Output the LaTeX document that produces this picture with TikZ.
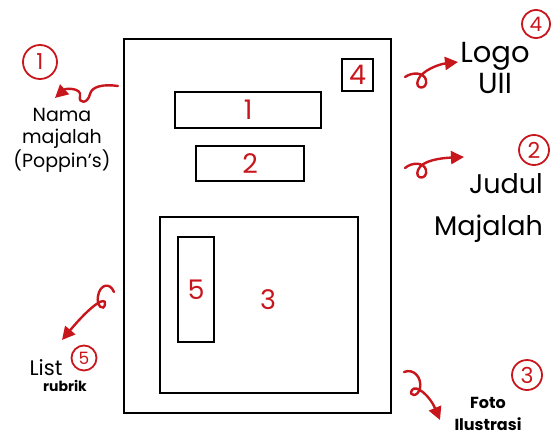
\documentclass[tikz,border=0pt]{standalone}
\usepackage{fontspec}
\setmainfont{Poppins}
\usepackage{xcolor}
\definecolor{marker}{HTML}{C8161D}
\usepackage{tikz}
\usetikzlibrary{arrows.meta, positioning}

\begin{document}
\begin{tikzpicture}[x=1pt, y=-1pt,
  box/.style={draw=black, line width=2.2pt, inner sep=0pt, anchor=north west},
  num/.style={text=marker, font=\fontsize{27}{27}\selectfont},
  badge/.style={draw=marker, circle, line width=1.8pt, text=marker,
                inner sep=0pt, font=\fontsize{22}{22}\selectfont},
  note/.style={font=\fontsize{18}{22}\selectfont, inner sep=0pt},
  curl/.style={draw=marker, line width=2.4pt, line cap=round,
               -{Triangle[length=13pt,width=13pt]}}]
  \useasboundingbox (0,0) rectangle (551,442);

  % layout sketch
  \node[box, minimum width=267pt, minimum height=374pt] (page) at (123,38) {};
  \node[box, minimum width=31pt, minimum height=32pt, num] (logo) at (341,58) {4};
  \node[box, minimum width=146pt, minimum height=36pt, num] (title) at (174,91) {1};
  \node[box, minimum width=108pt, minimum height=35pt, num] (subtitle) at (195,145) {2};
  \node[box, minimum width=198pt, minimum height=176pt] (photo) at (159,216) {};
  \node[num] (photonum) at (268,300) {3};
  \node[box, minimum width=36pt, minimum height=105pt, num] (list) at (177,236) {5};

  % notes on the left
  \node[badge, minimum size=34pt] (b1) at (40,62) {1};
  \node[note, align=center, font=\fontsize{19}{22}\selectfont] (namenote) at (62,140) {Nama\\majalah\\(Poppin's)};
  \node[badge, minimum size=25pt, font=\fontsize{17}{17}\selectfont] (b5) at (84,358) {5};
  \node[note, font=\fontsize{21}{21}\selectfont] (listnote) at (46,368) {List};
  \node[note, font=\fontsize{14}{14}\selectfont\bfseries] (rubriknote) at (65,386) {rubrik};

  % notes on the right
  \node[badge, minimum size=28pt, font=\fontsize{20}{20}\selectfont] (b4) at (536,24) {4};
  \node[note, align=center, font=\fontsize{29}{31}\selectfont] (logonote) at (495,68) {Logo\\UII};
  \node[badge, minimum size=30pt] (b2) at (534,150) {2};
  \node[note, align=right, font=\fontsize{27}{42}\selectfont, anchor=east] (titlenote) at (543,208) {Judul\\Majalah};
  \node[badge, minimum size=30pt] (b3) at (527,375) {3};
  \node[note, align=center, font=\fontsize{16}{22}\selectfont\bfseries] (photonote) at (488,414) {Foto\\Ilustrasi};

  % curly arrows
  \coordinate (s1) at (118,86);  \coordinate (e1) at (55,98);
  \coordinate (s4) at (405,77);  \coordinate (e4) at (458,62);
  \coordinate (s2) at (405,168); \coordinate (e2) at (464,157);
  \coordinate (s5) at (114,292); \coordinate (e5) at (62,340);
  \coordinate (s3) at (404,372); \coordinate (e3) at (440,420);

  \draw[curl] (s1) .. controls (104,84) and (92,86) .. (90,94)
                   .. controls (88,104) and (78,104) .. (80,96)
                   .. controls (82,88) and (66,88) .. (e1);
  \draw[curl] (s4) .. controls (412,72) and (424,72) .. (426,80)
                   .. controls (428,90) and (414,90) .. (418,80)
                   .. controls (422,70) and (440,64) .. (e4);
  \draw[curl] (s2) .. controls (412,162) and (424,162) .. (426,170)
                   .. controls (428,180) and (414,180) .. (418,170)
                   .. controls (422,160) and (442,158) .. (e2);
  \draw[curl] (s5) .. controls (110,282) and (100,284) .. (98,296)
                   .. controls (96,306) and (104,312) .. (105,304)
                   .. controls (106,296) and (92,304) .. (e5);
  \draw[curl] (s3) .. controls (414,368) and (422,378) .. (420,388)
                   .. controls (418,398) and (408,396) .. (412,390)
                   .. controls (416,384) and (430,396) .. (e3);
\end{tikzpicture}
\end{document}
